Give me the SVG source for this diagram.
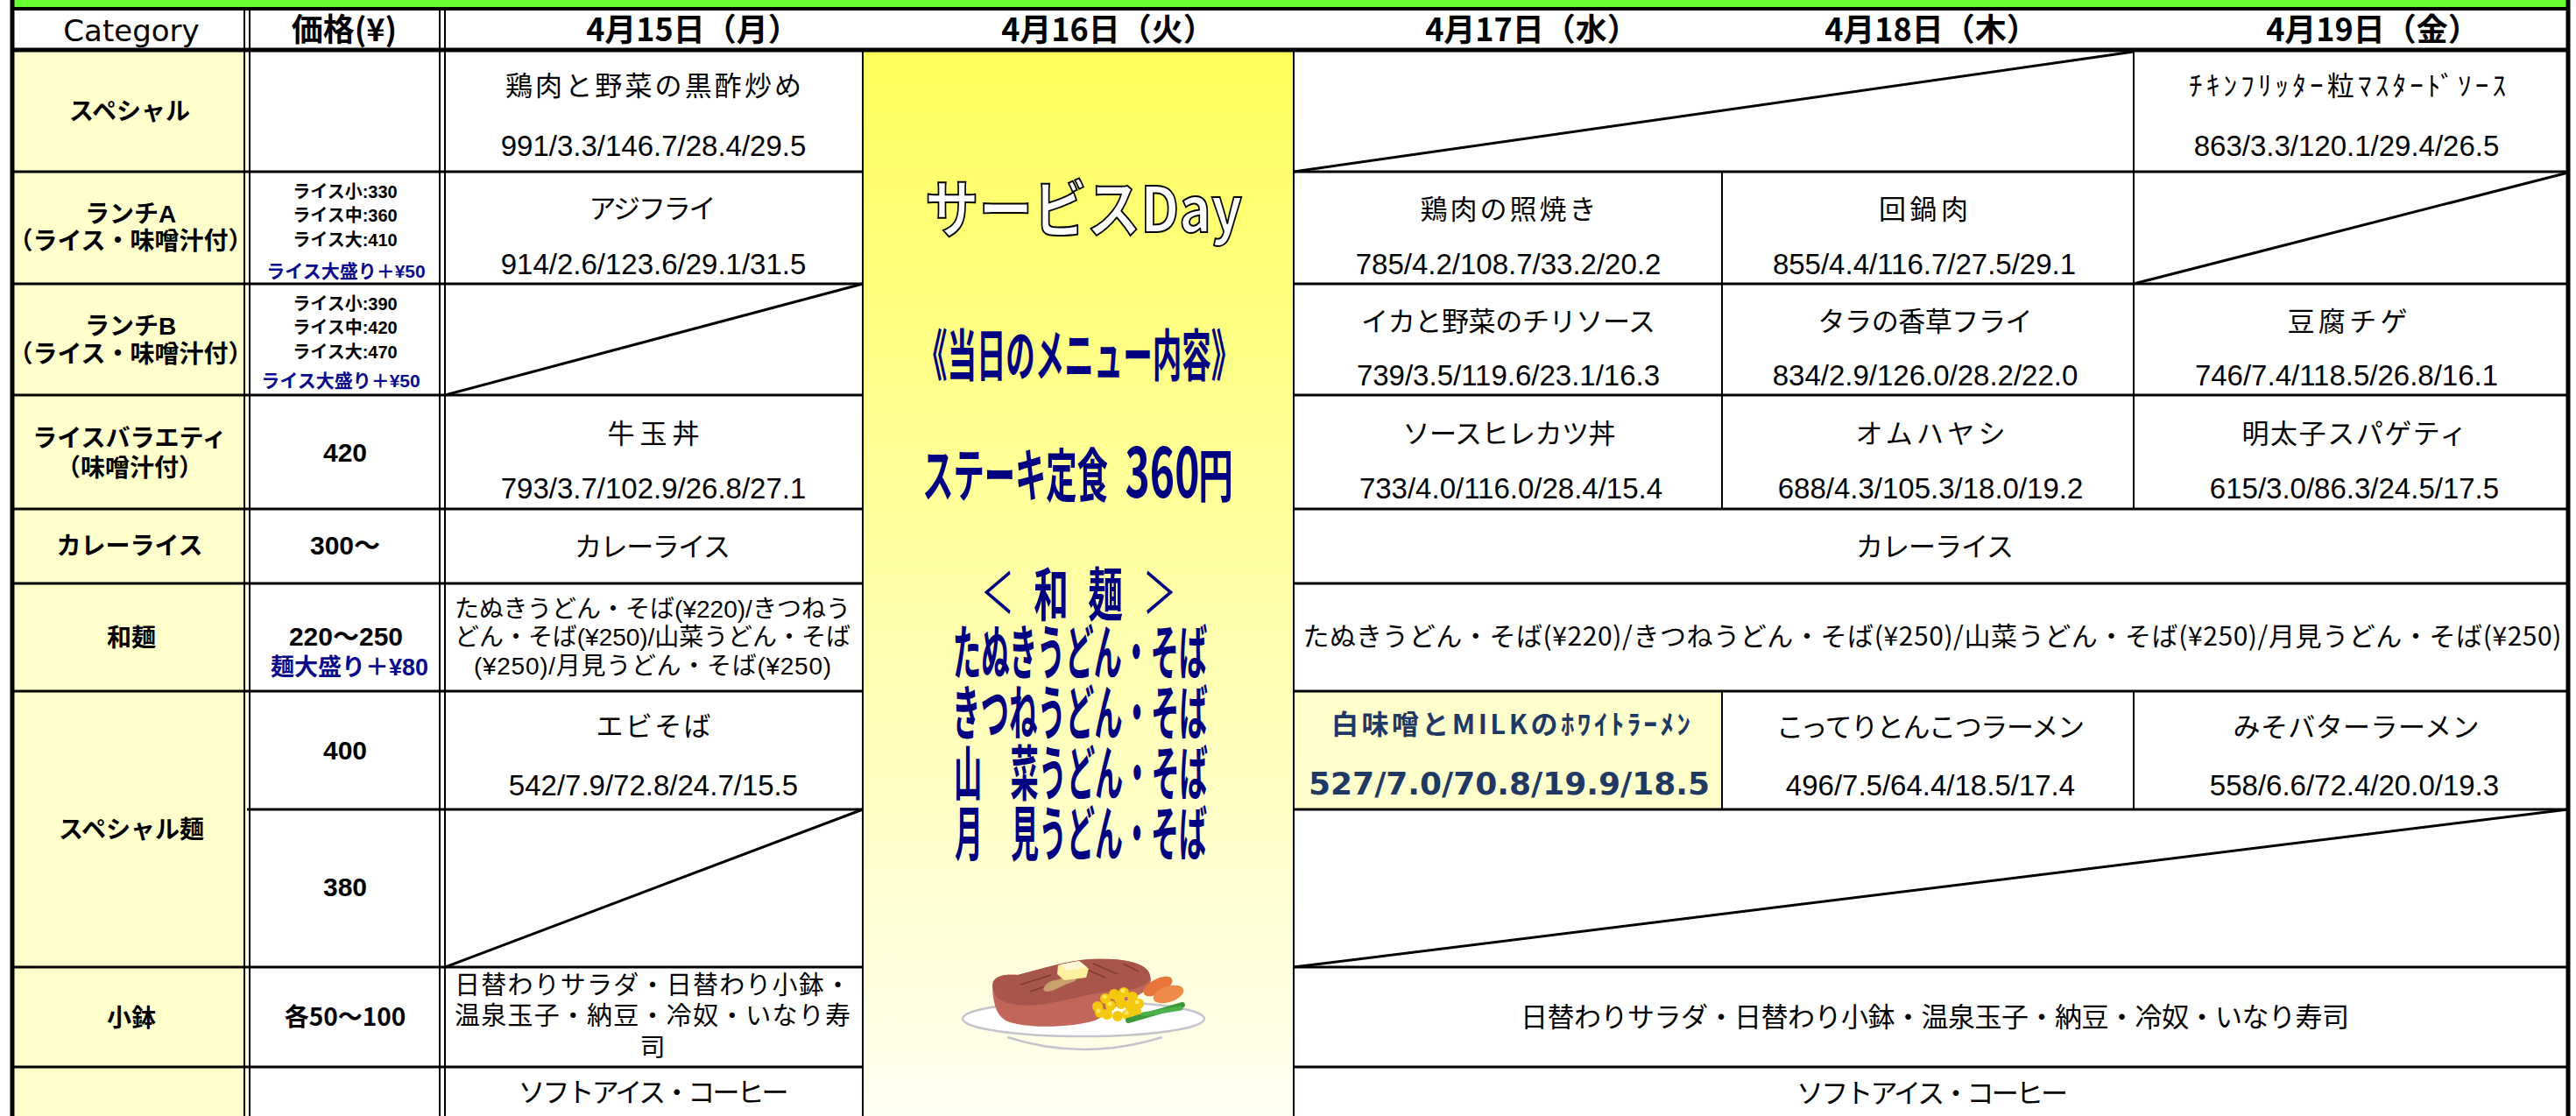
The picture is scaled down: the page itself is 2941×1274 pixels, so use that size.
<svg xmlns="http://www.w3.org/2000/svg" width="2941" height="1274" viewBox="0 0 2941 1274">
<defs>
<linearGradient id="yg" x1="0" y1="0" x2="0" y2="1">
<stop offset="0" stop-color="#FFFF5C"/>
<stop offset="0.5" stop-color="#FFFFA6"/>
<stop offset="1" stop-color="#FFFFF2"/>
</linearGradient>
<style>
.j{font-family:"Noto Sans CJK JP","Noto Sans CJK SC",sans-serif}
.n{font-family:"Liberation Sans","Noto Sans CJK JP",sans-serif}
.m{text-anchor:middle}
.b{font-weight:700}
.dish{font-size:31px}
.num{font-size:33px}
.cat{font-size:28px;font-weight:700}
.sm{font-size:20px;font-weight:700}
.blue{fill:#0A0A8C}
.navy{fill:#000080}
.hd{font-size:36px;font-weight:700}
.pr{font-size:30px;font-weight:700}
.ln{stroke:#000;fill:none}
.thin{stroke-width:2}
.row{stroke-width:3}
</style>
</defs>
<rect x="0" y="0" width="2941" height="1274" fill="#FFFFFF"/>
<g id="cells">
<rect x="14" y="0" width="2918" height="10" fill="#66FF33"/>
<rect x="14" y="57" width="268" height="1217" fill="#FFFFCC"/>
<rect x="985" y="57" width="492" height="1217" fill="url(#yg)"/>
<rect x="1477" y="789" width="489" height="135" fill="#FFFFCC"/>
</g>
<g id="steak">
<ellipse cx="1237" cy="1163" rx="138" ry="20" fill="#FFFFFF" stroke="#C4C4CC" stroke-width="2.5"/>
<path d="M1150,1184 Q1237,1212 1327,1184" fill="none" stroke="#C4C4CC" stroke-width="2.5"/>
<path d="M1133,1128 C1131,1112 1150,1112 1162,1113 C1190,1106 1215,1097 1245,1095 C1285,1093 1313,1100 1314,1118 C1314,1130 1300,1137 1285,1143 C1270,1150 1262,1160 1250,1165 C1225,1173 1170,1175 1148,1165 C1137,1158 1134,1145 1133,1128 Z" fill="#C2665A"/>
<path d="M1134,1126 C1132,1113 1150,1112 1162,1113 C1190,1106 1215,1097 1245,1095 C1285,1093 1313,1100 1313,1115 C1312,1126 1295,1130 1275,1131 C1250,1133 1225,1140 1200,1145 C1175,1150 1150,1148 1140,1140 C1135,1136 1134,1131 1134,1126 Z" fill="#A8564C"/>
<path d="M1165,1124 L1200,1113 M1176,1132 L1214,1119 M1232,1103 L1262,1116 M1248,1100 L1276,1112 M1282,1100 L1300,1109" stroke="#7E3B33" stroke-width="1.6" fill="none"/>
<path d="M1200,1120 C1192,1124 1188,1131 1195,1132 C1205,1131 1212,1125 1222,1122 C1230,1120 1232,1114 1225,1114 Z" fill="#C8A26A"/>
<path d="M1208,1102 L1232,1097 L1243,1106 L1240,1116 L1215,1119 L1207,1112 Z" fill="#FFF0A0"/>
<path d="M1210,1101 L1232,1097 L1241,1104 L1218,1108 Z" fill="#FFF8D2"/>
<ellipse cx="1322" cy="1126" rx="18" ry="8.5" transform="rotate(-28 1322 1126)" fill="#E8763A"/>
<ellipse cx="1334" cy="1135" rx="18" ry="9" transform="rotate(-18 1334 1135)" fill="#F08A4A"/>
<g fill="#F4C80C">
<circle cx="1253" cy="1149" r="6"/><circle cx="1262" cy="1140" r="6"/><circle cx="1272" cy="1135" r="6"/><circle cx="1283" cy="1133" r="6"/><circle cx="1293" cy="1138" r="6"/><circle cx="1300" cy="1146" r="6"/><circle cx="1297" cy="1155" r="6"/><circle cx="1287" cy="1158" r="6"/><circle cx="1276" cy="1160" r="6"/><circle cx="1264" cy="1158" r="6"/><circle cx="1256" cy="1156" r="6"/><circle cx="1268" cy="1148" r="6"/><circle cx="1280" cy="1146" r="6"/><circle cx="1290" cy="1148" r="6"/><circle cx="1278" cy="1140" r="6"/>
</g>
<g fill="#FFE85A">
<circle cx="1261" cy="1138" r="2.5"/><circle cx="1282" cy="1131" r="2.5"/><circle cx="1298" cy="1144" r="2.5"/><circle cx="1267" cy="1146" r="2.5"/><circle cx="1286" cy="1156" r="2.5"/><circle cx="1254" cy="1154" r="2.5"/>
</g>
<path d="M1288,1165 L1350,1147" stroke="#3A9A3A" stroke-width="6" stroke-linecap="round"/>
<path d="M1305,1158 L1348,1151" stroke="#4DB04A" stroke-width="5" stroke-linecap="round"/>
</g>
<g id="grid">
<line class="ln" x1="14" y1="10" x2="2932" y2="10" stroke-width="4"/>
<line class="ln" x1="14" y1="57" x2="2932" y2="57" stroke-width="5"/>
<line class="ln" x1="14" y1="0" x2="14" y2="1274" stroke-width="5"/>
<line class="ln" x1="2932" y1="0" x2="2932" y2="1274" stroke-width="5"/>
<line class="ln thin" x1="279" y1="10" x2="279" y2="1274"/>
<line class="ln thin" x1="285" y1="10" x2="285" y2="1274"/>
<line class="ln thin" x1="502" y1="10" x2="502" y2="1274"/>
<line class="ln thin" x1="508" y1="10" x2="508" y2="1274"/>
<line class="ln thin" x1="985" y1="57" x2="985" y2="1274"/>
<line class="ln thin" x1="1477" y1="57" x2="1477" y2="1274"/>
<line class="ln thin" x1="1966" y1="196" x2="1966" y2="581"/>
<line class="ln thin" x1="1966" y1="789" x2="1966" y2="924"/>
<line class="ln thin" x1="2436" y1="57" x2="2436" y2="581"/>
<line class="ln thin" x1="2436" y1="789" x2="2436" y2="924"/>
<path class="ln row" d="M14,196H985M14,324H985M14,451H985M14,581H985M14,666H985M14,789H985M282,924H985M14,1104H985M14,1218H985"/>
<path class="ln row" d="M1477,196H2932M1477,324H2932M1477,451H2932M1477,581H2932M1477,666H2932M1477,789H2932M1477,924H2932M1477,1104H2932M1477,1218H2932"/>
<path class="ln row" d="M508,451L985,324M1477,196L2436,59M2436,324L2932,197M508,1104L985,924M1477,1104L2932,924"/>
</g>
<g id="header">
<text x="150" y="47" class="m" font-family="DejaVu Sans, sans-serif" font-size="34">Category</text>
<text x="393" y="47" class="j m hd">価格(¥)</text>
<text x="791" y="47" class="j m hd">4月15日（月）</text>
<text x="1265" y="47" class="j m hd">4月16日（火）</text>
<text x="1749" y="47" class="j m hd">4月17日（水）</text>
<text x="2205" y="47" class="j m hd">4月18日（木）</text>
<text x="2709" y="47" class="j m hd">4月19日（金）</text>
</g>
<g id="category">
<text x="148" y="137" class="j m cat">スペシャル</text>
<text class="n m cat"><tspan x="149" y="254">ランチA</tspan><tspan x="149" y="285">（ライス・味噌汁付）</tspan></text>
<text class="n m cat"><tspan x="149" y="382">ランチB</tspan><tspan x="149" y="414">（ライス・味噌汁付）</tspan></text>
<text class="n m cat"><tspan x="148" y="510">ライスバラエティ</tspan><tspan x="148" y="544">（味噌汁付）</tspan></text>
<text x="148" y="633" class="j m cat">カレーライス</text>
<text x="150" y="738" class="j m cat">和麺</text>
<text x="150" y="957" class="j m cat">スペシャル麺</text>
<text x="150" y="1172" class="j m cat">小鉢</text>
</g>
<g id="price">
<text class="n m sm"><tspan x="394" y="226">ライス小:330</tspan><tspan x="394" y="253">ライス中:360</tspan><tspan x="394" y="281">ライス大:410</tspan><tspan x="395" y="317" class="blue" font-size="21">ライス大盛り＋¥50</tspan></text>
<text class="n m sm"><tspan x="394" y="354">ライス小:390</tspan><tspan x="394" y="381">ライス中:420</tspan><tspan x="394" y="409">ライス大:470</tspan><tspan x="389" y="442" class="blue" font-size="21">ライス大盛り＋¥50</tspan></text>
<text x="394" y="527" class="n m pr">420</text>
<text x="394" y="633" class="n m pr">300～</text>
<text class="n m pr"><tspan x="395" y="737">220～250</tspan><tspan x="399" y="771" class="blue" font-size="27">麺大盛り＋¥80</tspan></text>
<text x="394" y="867" class="n m pr">400</text>
<text x="394" y="1023" class="n m pr">380</text>
<text x="394" y="1171" class="j m b" font-size="28">各50～100</text>
</g>
<g id="mon">
<text x="746" y="109" class="j m dish" textLength="338">鶏肉と野菜の黒酢炒め</text>
<text x="746" y="178" class="n m num">991/3.3/146.7/28.4/29.5</text>
<text x="745" y="249" class="j m dish" textLength="145">アジフライ</text>
<text x="746" y="313" class="n m num">914/2.6/123.6/29.1/31.5</text>
<text x="746" y="506" class="j m dish" textLength="105">牛玉丼</text>
<text x="746" y="569" class="n m num">793/3.7/102.9/26.8/27.1</text>
<text x="745" y="635" class="j m dish" textLength="178">カレーライス</text>
<text class="n m" font-size="28"><tspan x="745" y="705" textLength="452">たぬきうどん・そば(¥220)/きつねう</tspan><tspan x="745" y="737" textLength="452">どん・そば(¥250)/山菜うどん・そば</tspan><tspan x="745" y="770" textLength="408">(¥250)/月見うどん・そば(¥250)</tspan></text>
<text x="746" y="840" class="j m dish" textLength="131">エビそば</text>
<text x="746" y="908" class="n m num">542/7.9/72.8/24.7/15.5</text>
<text class="n m" font-size="29"><tspan x="745" y="1135" textLength="452">日替わりサラダ・日替わり小鉢・</tspan><tspan x="745" y="1170" textLength="452">温泉玉子・納豆・冷奴・いなり寿</tspan><tspan x="745" y="1206">司</tspan></text>
<text x="746" y="1258" class="j m dish" textLength="309">ソフトアイス・コーヒー</text>
</g>
<g id="tue">
<text x="1237" y="265" class="j m b" font-size="72" textLength="362" lengthAdjust="spacingAndGlyphs" fill="#FFFFFF" stroke="#000000" stroke-width="2">サービスDay</text>
<text x="1232" y="429" class="j m b navy" font-size="64" transform="matrix(0.523,0,0,1,587.7,0)">《当日のメニュー内容》</text>
<text x="1159" y="567" class="j m b navy" font-size="66" transform="matrix(0.535,0,0,1,539,0)">ステーキ定食</text>
<text x="1327" y="568" class="j m b navy" font-size="80" transform="matrix(0.6,0,0,1,530.8,0)">360</text>
<text x="1388" y="567" class="j m b navy" font-size="66" transform="matrix(0.6,0,0,1,555.2,0)">円</text>
<text x="1139" y="700" class="j m navy" font-size="64" transform="matrix(0.6,0,0,1,455.6,0)">＜</text>
<text x="1200" y="703" class="j m b navy" font-size="66" transform="matrix(0.6,0,0,1,480,0)">和</text>
<text x="1262" y="703" class="j m b navy" font-size="66" transform="matrix(0.6,0,0,1,504.8,0)">麺</text>
<text x="1324" y="700" class="j m navy" font-size="64" transform="matrix(0.6,0,0,1,529.6,0)">＞</text>
<text x="1233" y="770" class="j m b navy" font-size="68" transform="matrix(0.477,0,0,1,644.9,0)">たぬきうどん・そば</text>
<text x="1233" y="839" class="j m b navy" font-size="68" transform="matrix(0.477,0,0,1,644.9,0)">きつねうどん・そば</text>
<text x="1234" y="908" class="j m b navy" font-size="68" transform="matrix(0.474,0,0,1,649.1,0)">山　菜うどん・そば</text>
<text x="1234" y="977" class="j m b navy" font-size="68" transform="matrix(0.471,0,0,1,652.8,0)">月　見うどん・そば</text>
</g>
<g id="wed">
<text x="1722" y="250" class="j m dish" textLength="201">鶏肉の照焼き</text>
<text x="1722" y="313" class="n m num">785/4.2/108.7/33.2/20.2</text>
<text x="1722" y="378" class="j m dish" textLength="336">イカと野菜のチリソース</text>
<text x="1722" y="440" class="n m num">739/3.5/119.6/23.1/16.3</text>
<text x="1723" y="506" class="j m dish" textLength="243">ソースヒレカツ丼</text>
<text x="1725" y="569" class="n m num">733/4.0/116.0/28.4/15.4</text>
<text x="1725" y="838" class="j m b" font-size="31" fill="#203864" textLength="410">白味噌とMILKのﾎﾜｲﾄﾗｰﾒﾝ</text>
<text x="1723" y="907" class="m b" font-family="DejaVu Sans, sans-serif" font-size="36" fill="#203864">527/7.0/70.8/19.9/18.5</text>
</g>
<g id="thu">
<text x="2196" y="250" class="j m dish" textLength="102">回鍋肉</text>
<text x="2197" y="313" class="n m num">855/4.4/116.7/27.5/29.1</text>
<text x="2198" y="378" class="j m dish" textLength="245">タラの香草フライ</text>
<text x="2198" y="440" class="n m num">834/2.9/126.0/28.2/22.0</text>
<text x="2204" y="506" class="j m dish" textLength="171">オムハヤシ</text>
<text x="2204" y="569" class="n m num">688/4.3/105.3/18.0/19.2</text>
<text x="2204" y="841" class="j m dish" textLength="352">こってりとんこつラーメン</text>
<text x="2204" y="908" class="n m num">496/7.5/64.4/18.5/17.4</text>
</g>
<g id="fri">
<text x="2680" y="109" class="j m dish" textLength="362">ﾁｷﾝﾌﾘｯﾀｰ粒ﾏｽﾀｰﾄﾞｿｰｽ</text>
<text x="2679" y="178" class="n m num">863/3.3/120.1/29.4/26.5</text>
<text x="2680" y="378" class="j m dish" textLength="137">豆腐チゲ</text>
<text x="2679" y="440" class="n m num">746/7.4/118.5/26.8/16.1</text>
<text x="2688" y="506" class="j m dish" textLength="257">明太子スパゲティ</text>
<text x="2688" y="569" class="n m num">615/3.0/86.3/24.5/17.5</text>
<text x="2690" y="841" class="j m dish" textLength="281">みそバターラーメン</text>
<text x="2688" y="908" class="n m num">558/6.6/72.4/20.0/19.3</text>
</g>
<g id="wed-fri-merged">
<text x="2209" y="635" class="j m dish" textLength="180">カレーライス</text>
<text x="2206" y="737" class="j m" font-size="30" textLength="1437">たぬきうどん・そば(¥220)/きつねうどん・そば(¥250)/山菜うどん・そば(¥250)/月見うどん・そば(¥250)</text>
<text x="2209" y="1172" class="j m" font-size="31" textLength="946">日替わりサラダ・日替わり小鉢・温泉玉子・納豆・冷奴・いなり寿司</text>
<text x="2206" y="1259" class="j m dish" textLength="310">ソフトアイス・コーヒー</text>
</g>
</svg>
